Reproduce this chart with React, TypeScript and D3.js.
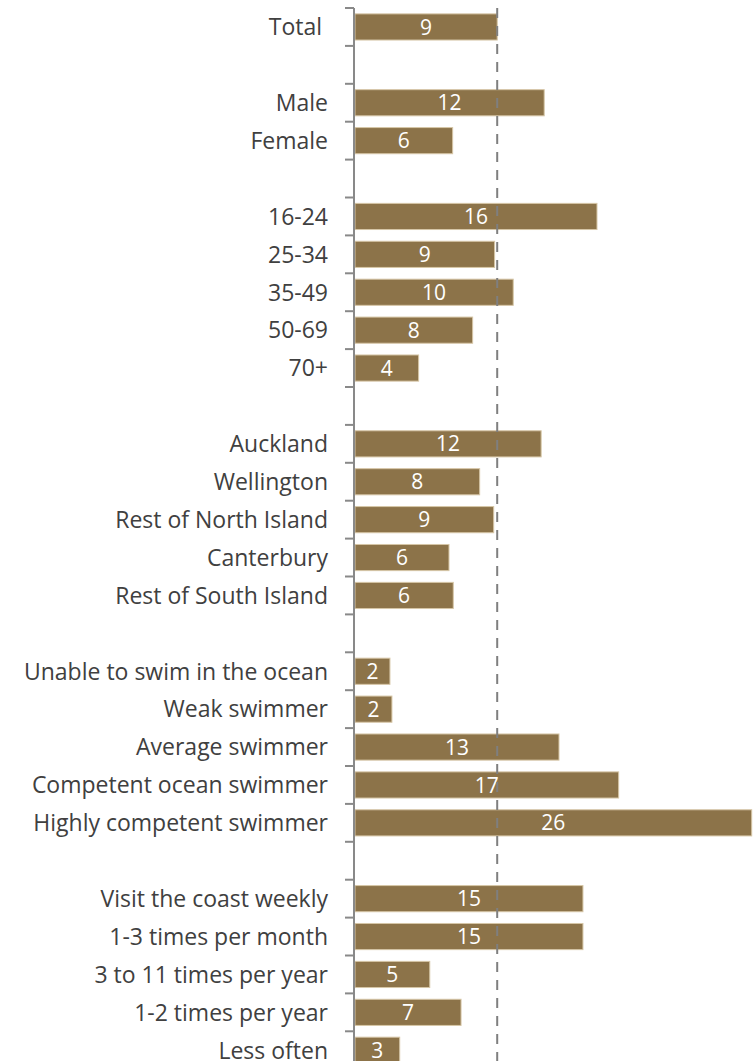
import React, { useEffect, useRef } from 'react';
import * as d3 from 'd3';

// groups of categories, blank slot between each group
const totalCats = ['Total '];
const totalVals = [9.32];
const genderCats = ['Male', 'Female'];
const genderVals = [12.4, 6.4];
const ageCats = ['16-24', '25-34', '35-49', '50-69', '70+'];
const ageVals = [15.86, 9.15, 10.37, 7.71, 4.17];
const regionCats = ['Auckland', 'Wellington', 'Rest of North Island', 'Canterbury', 'Rest of South Island'];
const regionVals = [12.2, 8.17, 9.09, 6.16, 6.44];
const swimCats = ['Unable to swim in the ocean', 'Weak swimmer', 'Average swimmer', 'Competent ocean swimmer', 'Highly competent swimmer'];
const swimVals = [2.29, 2.42, 13.37, 17.28, 26.0];
const visitCats = ['Visit the coast weekly', '1-3 times per month', '3 to 11 times per year', '1-2 times per year', 'Less often'];
const visitVals = [14.94, 14.94, 4.9, 6.95, 2.93];

const referenceValue = totalVals[0];

const W = 754;
const H = 1061;

export default function App() {
  const svgRef = useRef<SVGSVGElement>(null);

  useEffect(() => {
    if (!svgRef.current) return;
    const svg = d3.select(svgRef.current);
    svg.selectAll('*').remove();

    const groups = [
      [totalCats, totalVals],
      [genderCats, genderVals],
      [ageCats, ageVals],
      [regionCats, regionVals],
      [swimCats, swimVals],
      [visitCats, visitVals],
    ] as [string[], number[]][];

    const slots: string[] = [];
    const rows: { key: string; label: string; value: number }[] = [];
    groups.forEach(([cats, vals], gi) => {
      if (gi > 0) slots.push('gap' + gi);
      cats.forEach((c, i) => {
        slots.push(c);
        rows.push({ key: c, label: c, value: vals[i] });
      });
    });

    const top = 8;
    const step = 37.9;
    const y = d3.scaleBand<string>()
      .domain(slots)
      .range([top, top + step * slots.length])
      .paddingInner(0.31)
      .paddingOuter(0.155);

    const x0 = 355;
    const x = d3.scaleLinear().domain([0, 26]).range([x0, 751.7]);

    const font = "'Open Sans', sans-serif";

    // bars
    svg.append('g')
      .selectAll('rect')
      .data(rows)
      .enter()
      .append('rect')
      .attr('x', x(0))
      .attr('y', d => y(d.key)!)
      .attr('width', d => x(d.value) - x(0))
      .attr('height', y.bandwidth())
      .attr('fill', '#8c7349')
      .attr('stroke', '#d6c6a6')
      .attr('stroke-width', 1);

    // value labels
    svg.append('g')
      .selectAll('text')
      .data(rows)
      .enter()
      .append('text')
      .attr('x', d => (x(0) + x(d.value)) / 2)
      .attr('y', d => y(d.key)! + y.bandwidth() / 2)
      .attr('dy', '0.36em')
      .attr('text-anchor', 'middle')
      .attr('fill', '#ffffff')
      .style('font-family', font)
      .style('font-size', '21px')
      .text(d => Math.round(d.value));

    // category labels (trailing spaces kept)
    svg.append('g')
      .selectAll('text')
      .data(rows)
      .enter()
      .append('text')
      .attr('x', 328)
      .attr('y', d => y(d.key)! + y.bandwidth() / 2)
      .attr('dy', '0.36em')
      .attr('text-anchor', 'end')
      .attr('fill', '#404040')
      .style('font-family', font)
      .style('font-size', '23px')
      .style('white-space', 'pre')
      .text(d => d.label);

    // reference line at total
    svg.append('line')
      .attr('x1', x(referenceValue))
      .attr('x2', x(referenceValue))
      .attr('y1', top)
      .attr('y2', H)
      .attr('stroke', '#7f7f7f')
      .attr('stroke-width', 2)
      .attr('stroke-dasharray', '10,8');

    // axis with ticks at slot boundaries
    const axisX = 354;
    const axis = svg.append('g');
    axis.append('line')
      .attr('x1', axisX).attr('x2', axisX)
      .attr('y1', top).attr('y2', H)
      .attr('stroke', '#898989')
      .attr('stroke-width', 2);
    axis.selectAll('line.tick')
      .data(d3.range(slots.length + 1))
      .enter()
      .append('line')
      .attr('class', 'tick')
      .attr('x1', axisX - 9).attr('x2', axisX)
      .attr('y1', i => top + i * y.step())
      .attr('y2', i => top + i * y.step())
      .attr('stroke', '#898989')
      .attr('stroke-width', 2);
  }, []);

  return (
    <div style={{ position: 'absolute', left: 0, top: 0, width: W, height: H, background: '#fff' }}>
      <svg ref={svgRef} width={W} height={H} />
    </div>
  );
}
